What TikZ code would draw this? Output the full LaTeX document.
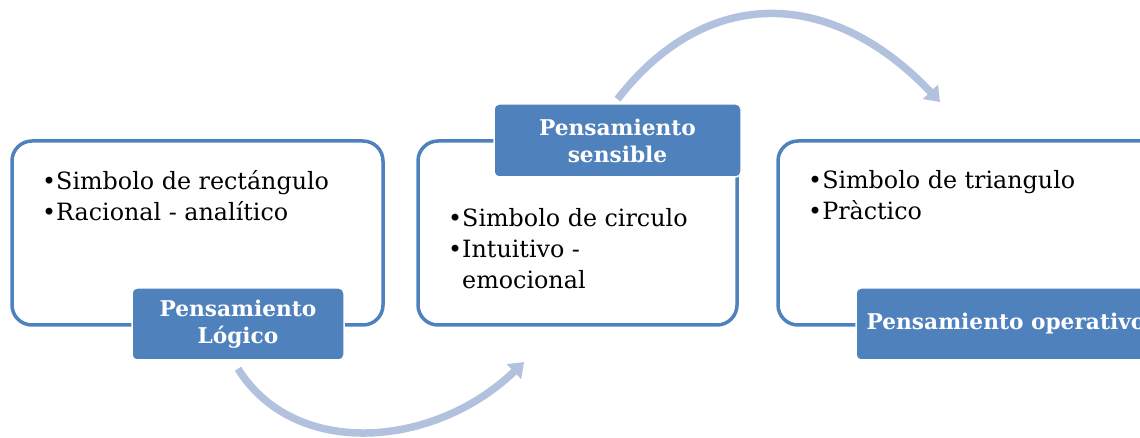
\documentclass[tikz,border=0pt]{standalone}
\usepackage{fontspec}
\setmainfont{DejaVu Serif}
\usetikzlibrary{positioning, arrows.meta}
\definecolor{primary}{RGB}{79, 129, 189}
\definecolor{flowblue}{RGB}{178, 193, 222}

\begin{document}
\begin{tikzpicture}[x=1pt, y=1pt,
        panel/.style={draw=primary, line width=3.5pt, fill=white, rounded corners=20pt, minimum width=#1, minimum height=184pt, inner sep=0pt},
        title/.style={draw=white, line width=1.5pt, fill=primary, rounded corners=5pt, text=white, font=\fontsize{21.7}{27}\selectfont\bfseries, align=center, minimum width=#1, minimum height=72pt, inner sep=0pt},
        items/.style={anchor=north west, align=left, inner sep=0pt, font=\fontsize{23.8}{31}\selectfont},
        flow/.style={flowblue, line width=7.5pt, -{Triangle[length=14pt, width=20pt]}}
    ]
        \useasboundingbox (0,0) rectangle (1140,438);

        \node[panel=371pt] (logicobox) at (197.5,205) {};
        \node[panel=319pt] (sensiblebox) at (577.5,205) {};
        \node[panel=390pt] (operativobox) at (973,205) {};

        \node[items] (logicoitems) at (42,268) {\textbullet Simbolo de rectángulo\\\textbullet Racional - analítico};
        \node[items] (sensibleitems) at (448,230) {\textbullet Simbolo de circulo\\\textbullet Intuitivo -\\\phantom{\textbullet}emocional};
        \node[items] (operativoitems) at (808,268) {\textbullet Simbolo de triangulo\\\textbullet Pràctico};

        \node[title=212pt] (logico) at (238,114) {Pensamiento\\Lógico};
        \node[title=247pt, minimum height=73pt] (sensible) at (617.5,297.5) {Pensamiento\\sensible};
        \node[title=300pt] (operativo) at (1006,114) {Pensamiento operativo};

        \coordinate (logicoend) at (524,76);
        \coordinate (sensibleend) at (940,336);

        \draw[flow] ([yshift=-8pt]logico.south) .. controls (295,-22) and (435,-10) .. (logicoend);
        \draw[flow] ([yshift=4pt]sensible.north) .. controls (705,452) and (830,452) .. (sensibleend);
    \end{tikzpicture}
\end{document}
